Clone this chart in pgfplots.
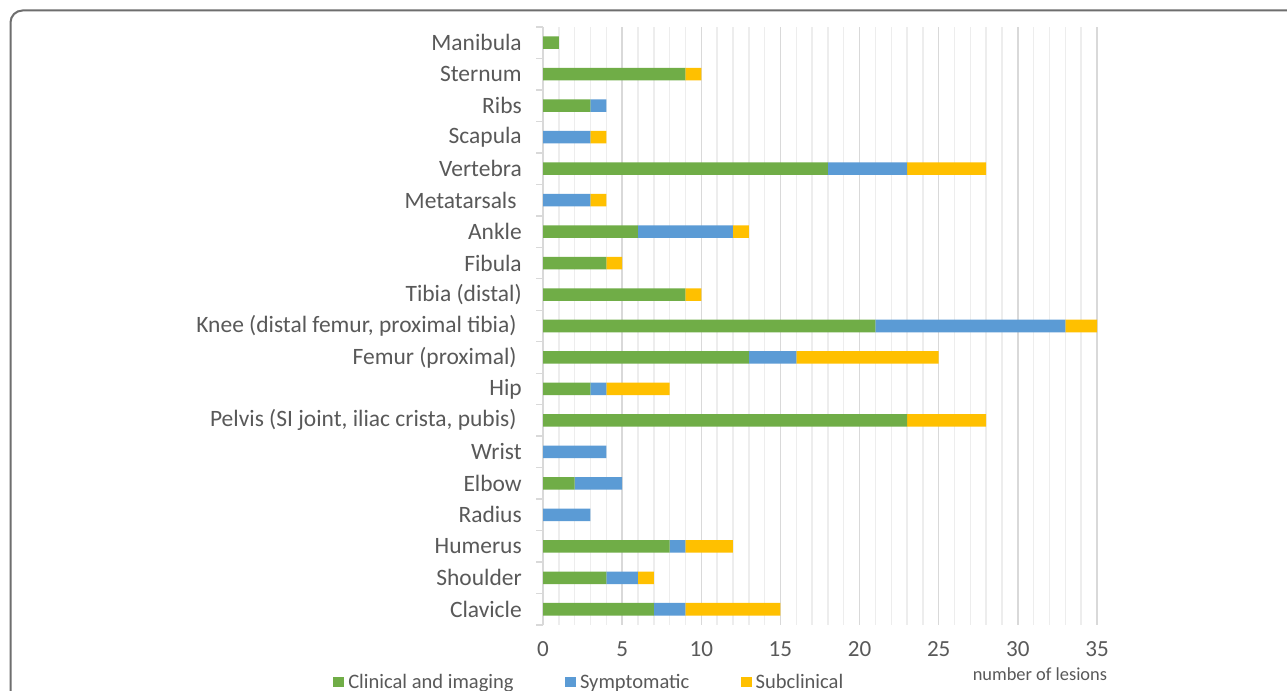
\documentclass[border=0pt]{standalone}
\usepackage{pgfplots}
\pgfplotsset{compat=1.18}
\usepackage{pgfplotstable}
\usepackage{fontspec}
\setmainfont{Carlito}
\definecolor{cgreen}{HTML}{70AD47}
\definecolor{cblue}{HTML}{5B9BD5}
\definecolor{cgold}{HTML}{FFC000}
\definecolor{ctext}{HTML}{595959}
\definecolor{cmajor}{HTML}{D9D9D9}
\definecolor{cminor}{HTML}{EDEDED}
\definecolor{cframe}{HTML}{6E6E6E}

\pgfplotstableread{
y clin symp sub
0 7 2 6
1 4 2 1
2 8 1 3
3 0 3 0
4 2 3 0
5 0 4 0
6 23 0 5
7 3 1 4
8 13 3 9
9 21 12 2
10 9 0 1
11 4 0 1
12 6 6 1
13 0 3 1
14 18 5 5
15 0 3 1
16 3 1 0
17 9 0 1
18 1 0 0
}\lesions

\begin{document}
\begin{tikzpicture}[x=0.75pt,y=0.75pt]
\useasboundingbox (0,0) rectangle (1287,691);
\fill[white] (0,0) rectangle (1287,691);
\draw[cframe, line width=1.5pt, rounded corners=9pt] (10.5,-10) -- (10.5,680.5) -- (1300,680.5);
\begin{axis}[
  at={(407.25pt,49.5pt)}, anchor=south west,
  scale only axis,
  width=415.5pt, height=448.5pt,
  xmin=0, xmax=35, ymin=-0.5, ymax=18.5,
  xbar stacked, bar width=9.4pt,
  axis x line*=bottom, axis y line*=left,
  x axis line style={draw=none},
  y axis line style={draw=cmajor, line width=1pt},
  xtick={0,5,...,35},
  minor x tick num=4,
  xmajorgrids, xminorgrids,
  major grid style={draw=cmajor, line width=1.1pt},
  minor grid style={draw=cminor, line width=1.1pt},
  x tick style={draw=none},
  y tick style={draw=cmajor, line width=1pt},
  major tick length=0pt,
  minor tick length=5.25pt,
  tick align=outside,
  ytick={0,...,18},
  minor ytick={-0.5,0.5,...,18.5},
  yticklabels={Clavicle, Shoulder, Humerus, Radius, Elbow, Wrist,
    {Pelvis (SI joint, iliac crista, pubis)\kern3.9pt}, Hip,
    {Femur (proximal)\kern3.9pt}, {Knee (distal femur, proximal tibia)\kern3.9pt},
    Tibia (distal), Fibula, Ankle, {Metatarsals\kern3.9pt}, Vertebra, Scapula,
    Ribs, Sternum, Manibula},
  /pgf/number format/assume math mode=true,
  yticklabel style={font=\fontsize{17.6pt}{20pt}\selectfont, text=ctext, anchor=east, inner sep=0pt, xshift=-15.75pt},
  xticklabel style={font=\fontsize{17.3pt}{20pt}\selectfont, text=ctext, anchor=base, inner sep=0pt, yshift=-24pt},
  xlabel={number of lesions},
  xlabel style={font=\fontsize{13.8pt}{16pt}\selectfont, text=ctext, at={(axis description cs:0.897,-0.082)}, anchor=center},
  legend columns=3,
  legend style={draw=none, fill=none, inner xsep=0pt, inner ysep=0pt,
    at={(axis description cs:-0.379,-0.0953)}, anchor=west,
    font=\fontsize{15.4pt}{18pt}\selectfont, text=ctext,
    nodes={inner sep=0pt},
    /tikz/every odd column/.append style={column sep=3pt},
    /tikz/every even column/.append style={column sep=38.5pt}},
  legend image code/.code={\fill[#1] (0pt,-4.1pt) rectangle (8.25pt,4.1pt);},
]
\addplot[fill=cgreen, draw=none] table[x=clin, y=y] {\lesions};
\addplot[fill=cblue, draw=none] table[x=symp, y=y] {\lesions};
\addplot[fill=cgold, draw=none] table[x=sub, y=y] {\lesions};
\legend{Clinical and imaging, Symptomatic, Subclinical}
\end{axis}
\end{tikzpicture}
\end{document}
